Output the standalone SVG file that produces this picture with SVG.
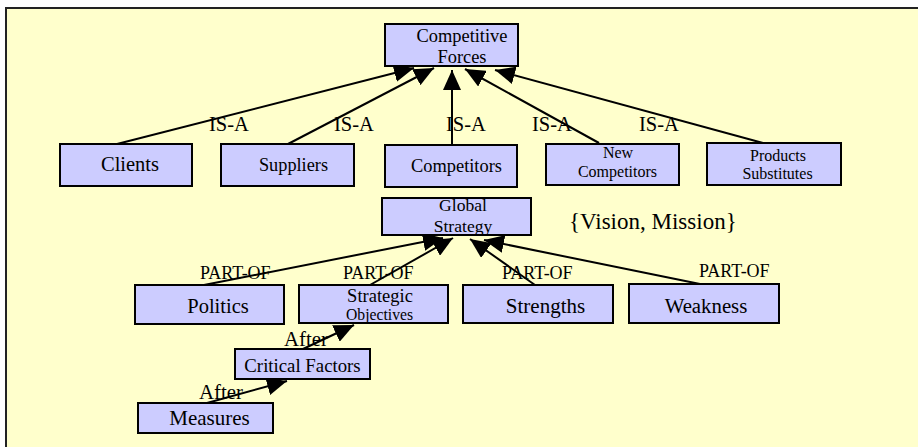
<svg xmlns="http://www.w3.org/2000/svg" width="918" height="447" viewBox="0 0 918 447">
  <style>
    .frame { fill: #ffffcc; stroke: #222222; stroke-width: 2; }
    .box { fill: #ccccff; stroke: #000000; stroke-width: 2; }
    .edge { stroke: #000000; stroke-width: 2; fill: none; marker-end: url(#head); }
    text { font-family: "Liberation Serif", "Times New Roman", serif; fill: #000000; }
    .lbl { text-anchor: middle; }
  </style>
  <defs>
    <marker id="head" markerUnits="userSpaceOnUse" viewBox="0 0 20 18" refX="20" refY="9" markerWidth="20" markerHeight="18" orient="auto">
      <path d="M0,0 L20,9 L0,18 z" fill="#000000"/>
    </marker>
  </defs>

  <rect class="frame" x="6" y="8" width="930" height="460"/>

  <!-- connectors -->
  <g id="connectors">
    <line class="edge" x1="117" y1="144" x2="414" y2="68"/>
    <line class="edge" x1="288" y1="144" x2="434" y2="68"/>
    <line class="edge" x1="452" y1="145" x2="452" y2="70"/>
    <line class="edge" x1="599" y1="143" x2="465" y2="69"/>
    <line class="edge" x1="763" y1="143" x2="495" y2="70"/>

    <line class="edge" x1="204" y1="285" x2="443" y2="238"/>
    <line class="edge" x1="370" y1="285" x2="453" y2="238"/>
    <line class="edge" x1="535" y1="285" x2="470" y2="239"/>
    <line class="edge" x1="700" y1="284" x2="484" y2="240"/>

    <line class="edge" x1="303" y1="349" x2="354" y2="325"/>
    <line class="edge" x1="207" y1="403" x2="287" y2="381"/>

    <text x="209" y="131" font-size="20.5">IS-A</text>
    <text x="334" y="131" font-size="20.5">IS-A</text>
    <text x="446" y="131" font-size="20.5">IS-A</text>
    <text x="532" y="131" font-size="20.5">IS-A</text>
    <text x="639" y="131" font-size="20.5">IS-A</text>

    <text x="200" y="279" font-size="18">PART-OF</text>
    <text x="343" y="279" font-size="18">PART-OF</text>
    <text x="502" y="279" font-size="18">PART-OF</text>
    <text x="699" y="277" font-size="18">PART-OF</text>

    <text x="284" y="346" font-size="20.8">After</text>
    <text x="199" y="399" font-size="20.8">After</text>
  </g>

  <!-- nodes -->
  <g id="competitive-forces">
    <rect class="box" x="385" y="24" width="133" height="42"/>
    <text class="lbl" x="462" y="41.5" font-size="18.4">Competitive</text>
    <text class="lbl" x="462" y="63" font-size="18.4">Forces</text>
  </g>
  <g id="clients">
    <rect class="box" x="60" y="144" width="132" height="42"/>
    <text class="lbl" x="130" y="171" font-size="20.5">Clients</text>
  </g>
  <g id="suppliers">
    <rect class="box" x="221" y="144" width="133" height="42"/>
    <text class="lbl" x="293.5" y="170.5" font-size="18.3">Suppliers</text>
  </g>
  <g id="competitors">
    <rect class="box" x="385" y="145" width="132" height="42"/>
    <text class="lbl" x="456.5" y="172" font-size="18.4">Competitors</text>
  </g>
  <g id="new-competitors">
    <rect class="box" x="546" y="144" width="133" height="41"/>
    <text class="lbl" x="618" y="158" font-size="16">New</text>
    <text class="lbl" x="617.5" y="177" font-size="16">Competitors</text>
  </g>
  <g id="products-substitutes">
    <rect class="box" x="707" y="143" width="134" height="42"/>
    <text class="lbl" x="778" y="161" font-size="16">Products</text>
    <text class="lbl" x="777.5" y="179" font-size="16">Substitutes</text>
  </g>
  <g id="global-strategy">
    <rect class="box" x="382" y="198" width="149" height="37"/>
    <text class="lbl" x="463" y="211" font-size="17.6">Global</text>
    <text class="lbl" x="463" y="231.5" font-size="17.6">Strategy</text>
  </g>
  <text x="569" y="229" font-size="23">{Vision, Mission}</text>
  <g id="politics">
    <rect class="box" x="135" y="285" width="149" height="39"/>
    <text class="lbl" x="218" y="313" font-size="20.5">Politics</text>
  </g>
  <g id="strategic-objectives">
    <rect class="box" x="299" y="285" width="149" height="38"/>
    <text class="lbl" x="380" y="302" font-size="18.5">Strategic</text>
    <text class="lbl" x="379.5" y="320" font-size="15.7">Objectives</text>
  </g>
  <g id="strengths">
    <rect class="box" x="463" y="285" width="150" height="38"/>
    <text class="lbl" x="545.5" y="313" font-size="21">Strengths</text>
  </g>
  <g id="weakness">
    <rect class="box" x="629" y="284" width="150" height="39"/>
    <text class="lbl" x="706" y="313" font-size="20.8">Weakness</text>
  </g>
  <g id="critical-factors">
    <rect class="box" x="235" y="349" width="135" height="30"/>
    <text class="lbl" x="302.5" y="372" font-size="18.8">Critical Factors</text>
  </g>
  <g id="measures">
    <rect class="box" x="138" y="403" width="135" height="30"/>
    <text class="lbl" x="209.5" y="425" font-size="21">Measures</text>
  </g>
</svg>
